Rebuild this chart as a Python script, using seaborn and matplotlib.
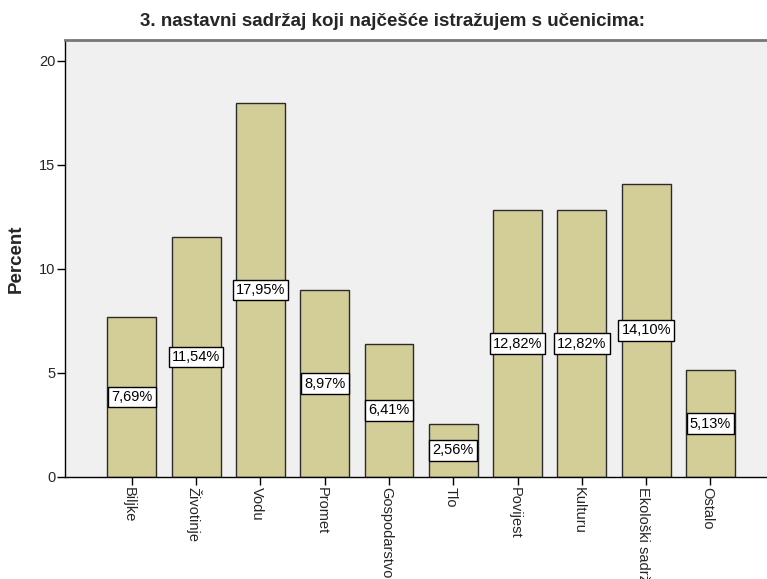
import matplotlib
matplotlib.use("Agg")
import matplotlib.pyplot as plt
import matplotlib.transforms as mtransforms
import seaborn as sns
import pandas as pd

categories = ["Biljke", "Životinje", "Vodu", "Promet", "Gospodarstvo",
              "Tlo", "Povijest", "Kulturu", "Ekološki sadržaj", "Ostalo"]
percents = [7.69, 11.54, 17.95, 8.97, 6.41, 2.56, 12.82, 12.82, 14.10, 5.13]
yticks = [0, 5, 10, 15, 20]

sns.set_style("white")
plt.rcParams["font.family"] = ["Liberation Sans", "DejaVu Sans"]

df = pd.DataFrame({"kategorija": categories, "postotak": percents})

fig = plt.figure(figsize=(7.67, 5.79), dpi=100)
ax = fig.add_axes([65 / 767, 102 / 579, 1 - 65 / 767, (477 - 40) / 579])
ax.set_facecolor("#F0F0F0")

sns.barplot(data=df, x="kategorija", y="postotak", color="#D3CE97",
            saturation=1, width=0.76, edgecolor="#2B2B2B", linewidth=1,
            ax=ax)

for i, v in enumerate(percents):
    ax.text(i, v / 2, f"{v:.2f}%".replace(".", ","), ha="center", va="center",
            fontsize=10.5, color="black",
            bbox=dict(boxstyle="square,pad=0.22", facecolor="white",
                      edgecolor="black", linewidth=1))

ax.set_xlim(-1.04, 9.88)
ax.set_ylim(0, 21)
ax.set_yticks(yticks)
ax.set_yticklabels([str(t) for t in yticks], fontsize=10.5)
ax.set_xticks(range(len(categories)))
ax.set_xticklabels(categories, rotation=270, fontsize=10.5, va="top", ha="center")
ax.tick_params(axis="both", direction="out", length=6, width=1, color="black",
               bottom=True, left=True, pad=1)
# labels sit a bit left of the tick, like in SPSS output
shift = mtransforms.ScaledTranslation(-3 / 100, 0, fig.dpi_scale_trans)
for lbl in ax.get_xticklabels():
    lbl.set_transform(lbl.get_transform() + shift)
ax.set_xlabel("")
ax.set_ylabel("Percent", fontsize=13.5, fontweight="bold", labelpad=10)

for s in ["left", "bottom"]:
    ax.spines[s].set_color("black")
    ax.spines[s].set_linewidth(1)
ax.spines["top"].set_color("#777777")
ax.spines["top"].set_linewidth(2)
ax.spines["right"].set_visible(False)

fig.text(392 / 767, 1 - 22 / 579, "3. nastavni sadržaj koji najčešće istražujem s učenicima:",
         ha="center", va="center", fontsize=13.5, fontweight="bold")

fig.savefig("out.png", dpi=100)
